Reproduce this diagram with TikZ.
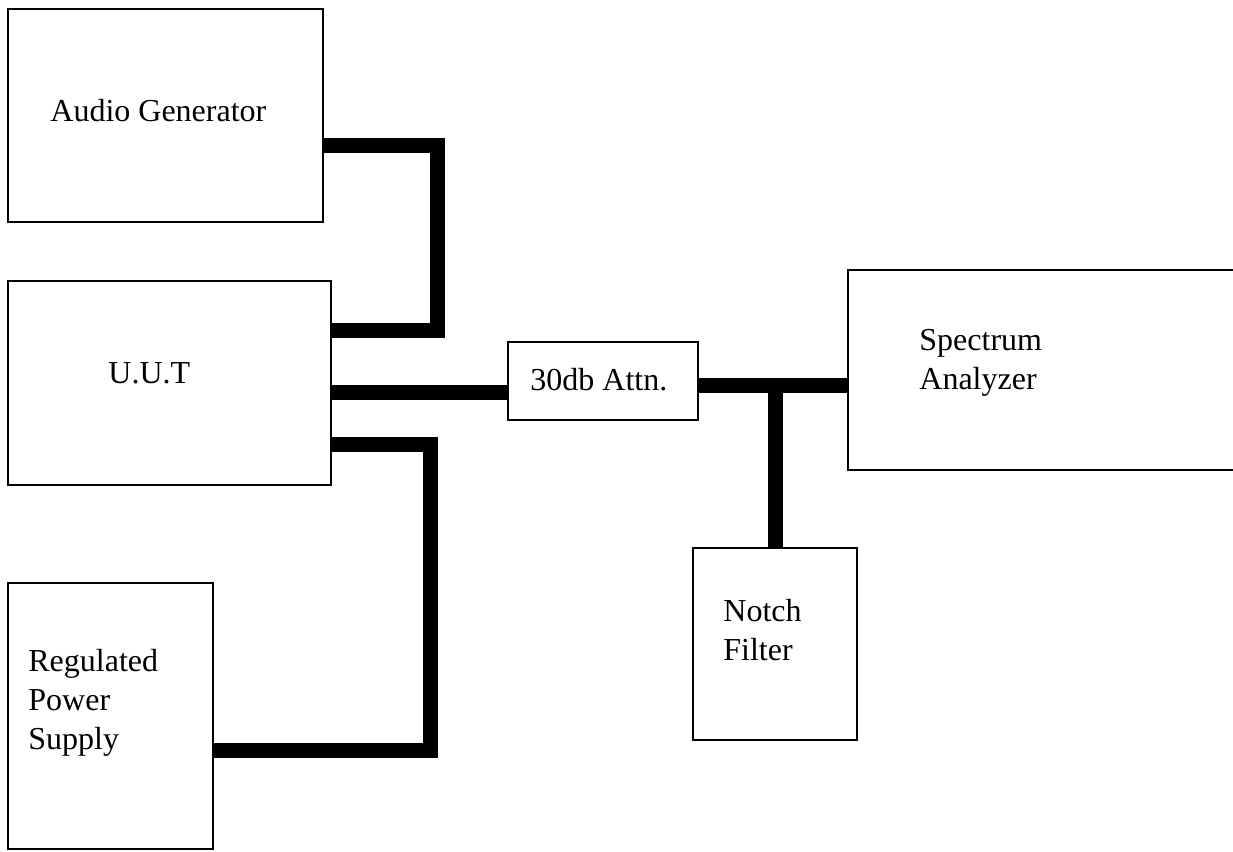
\documentclass[tikz,border=0pt]{standalone}
\usepackage{fontspec}
\setmainfont{Liberation Serif}
\usetikzlibrary{calc}

\begin{document}
\begin{tikzpicture}[x=0.5pt,y=-0.5pt,line join=miter,
  unit/.style={draw,line width=1.3pt,rectangle,inner sep=0pt},
  cable/.style={line width=7.5pt},
  lbl/.style={inner sep=0pt,align=left,font=\fontsize{16}{19.5}\selectfont}]
  \useasboundingbox (0,0) rectangle (1233,852);
  % units
  \node[unit,minimum width=315*0.5pt,minimum height=213*0.5pt] (ag) at (165.5,115.5) {};
  \node[unit,minimum width=323*0.5pt,minimum height=204*0.5pt] (uut) at (169.5,383) {};
  \node[unit,minimum width=205*0.5pt,minimum height=266*0.5pt] (rps) at (110.5,716) {};
  \node[unit,minimum width=190*0.5pt,minimum height=78*0.5pt] (attn) at (603,381) {};
  \node[unit,minimum width=420*0.5pt,minimum height=200*0.5pt] (sa) at (1058,370) {};
  \node[unit,minimum width=164*0.5pt,minimum height=192*0.5pt] (notch) at (775,644) {};
  % labels
  \node[lbl,anchor=base west] (agtxt) at (50,121) {Audio Generator};
  \node[lbl,anchor=base west] (uuttxt) at (108,383) {U.U.T};
  \node[lbl,anchor=base west] (attntxt) at (530,390) {30db Attn.};
  \node[lbl,anchor=north west] (satxt) at (919,329) {Spectrum\\Analyzer};
  \node[lbl,anchor=north west] (notchtxt) at (723,599) {Notch\\Filter};
  \node[lbl,anchor=north west] (rpstxt) at (28,649) {Regulated\\Power\\Supply};
  % cables
  \draw[cable] (ag.east |- 0,145) -| (437,330) -- (uut.east |- 0,330);
  \draw[cable] (uut.east |- 0,392) -- (attn.west |- 0,392);
  \draw[cable] (attn.east |- 0,385) -- (sa.west |- 0,385);
  \coordinate (tee) at (notch.north |- 0,385);
  \draw[cable] (tee) -- (notch.north);
  \draw[cable] (uut.east |- 0,444) -| (430,750) -- (rps.east |- 0,750);
\end{tikzpicture}
\end{document}
